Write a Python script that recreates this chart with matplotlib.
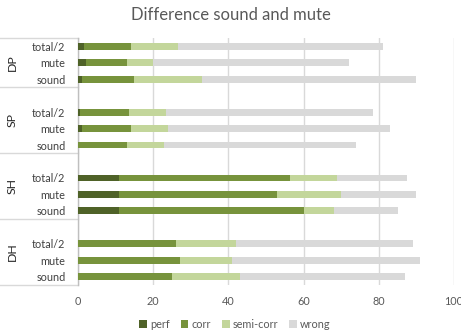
import matplotlib
matplotlib.use("Agg")
import matplotlib.pyplot as plt
import matplotlib.transforms as mtransforms
import numpy as np

plt.rcParams['font.family'] = ['Lato', 'DejaVu Sans']

title = "Difference sound and mute"
groups = ["DP", "SP", "SH", "DH"]
conditions = ["total/2", "mute", "sound"]
series_names = ["perf", "corr", "semi-corr", "wrong"]

# segment lengths per row, rows ordered top to bottom (group by group, conditions as listed)
perf = [1.5, 2, 1,   0.5, 1, 0,   11, 11, 11,   0, 0, 0]
corr = [12.5, 11, 14,   13, 13, 13,   45.5, 42, 49,   26, 27, 25]
semi = [12.5, 7, 18,   10, 10, 10,   12.5, 17, 8,   16, 14, 18]
wrong = [54.5, 52, 57,   55, 59, 51,   18.5, 20, 17,   47, 50, 44]

xticks = [0, 20, 40, 60, 80, 100]
colors = ["#4f6228", "#77933c", "#c3d69b", "#d9d9d9"]

fig = plt.figure(figsize=(4.61, 3.36), dpi=100)
ax = fig.add_axes([0.1692, 0.1518, 0.8156, 0.7351])

# slot layout: each group below the first has an empty slot above its bars
n_groups = len(groups)
n_cond = len(conditions)
positions = []
slot = 4 * n_groups - 2  # top slot index
for gi in range(n_groups):
    if gi > 0:
        slot -= 1
    for ci in range(n_cond):
        positions.append(slot)
        slot -= 1
positions = np.array(positions, dtype=float)

data = [np.array(perf), np.array(corr), np.array(semi), np.array(wrong)]
left = np.zeros(len(positions))
for vals, name, col in zip(data, series_names, colors):
    ax.barh(positions, vals, left=left, height=0.42, color=col, label=name, zorder=3)
    left = left + vals

ax.set_xlim(0, 100)
ax.set_ylim(-0.5, 14.5)
ax.set_xticks(xticks)
ax.set_xticklabels([str(t) for t in xticks], fontsize=7.8, color="#595959")
ax.tick_params(axis='x', length=0, pad=8)
ax.set_yticks(positions)
ax.set_yticklabels(conditions * n_groups, fontsize=7.8, color="#404040")
ax.tick_params(axis='y', length=0, pad=9)
ax.grid(axis='x', color="#d9d9d9", linewidth=1, zorder=0)
for s in ["top", "right", "bottom"]:
    ax.spines[s].set_visible(False)
ax.spines["left"].set_color("#bfbfbf")
ax.spines["left"].set_linewidth(1)

# group separators and labels on the category axis
trans = mtransforms.blended_transform_factory(ax.transAxes, ax.transData)
x_left = -78 / 376
seps = [14.5, 11.5, 7.5, 3.5, -0.5]
for y in seps:
    ax.plot([x_left, 0], [y, y], transform=trans, color="#d9d9d9", linewidth=1, clip_on=False)
for gi, g in enumerate(groups):
    yc = (seps[gi] + seps[gi + 1]) / 2
    ax.text(-66 / 376, yc, g, transform=trans, rotation=90, ha="center", va="center",
            fontsize=8.8, color="#262626")

fig.text(0.5, 0.955, title, ha="center", va="center", fontsize=12, color="#595959")

fig.legend(loc="lower center", bbox_to_anchor=(0.51, -0.01), ncol=4, frameon=False,
           fontsize=7.8, handlelength=0.7, handleheight=0.7, handletextpad=0.3,
           columnspacing=1.0, labelcolor="#595959")

fig.savefig("out.png", dpi=100)
